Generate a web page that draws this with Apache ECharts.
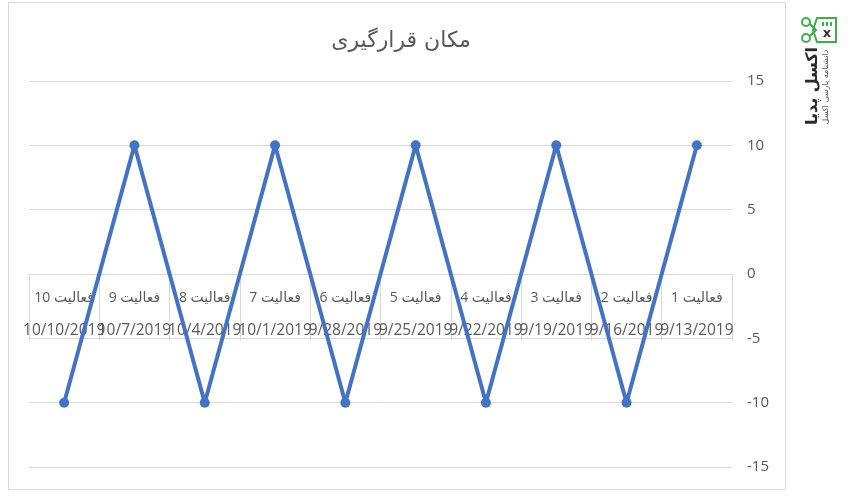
<!DOCTYPE html>
<html><head><meta charset="utf-8">
<script src="https://cdn.jsdelivr.net/npm/echarts@6/dist/echarts.min.js"></script>
<style>html,body{margin:0;padding:0;background:#fff}#c{width:849px;height:500px}</style>
</head><body><div id="c"></div>
<script>
var activities = ['فعالیت 1','فعالیت 2','فعالیت 3','فعالیت 4','فعالیت 5','فعالیت 6','فعالیت 7','فعالیت 8','فعالیت 9','فعالیت 10'];
var dates = ['9/13/2019','9/16/2019','9/19/2019','9/22/2019','9/25/2019','9/28/2019','10/1/2019','10/4/2019','10/7/2019','10/10/2019'];
var values = [10,-10,10,-10,10,-10,10,-10,10,-10];
var titleText = 'مکان قرارگیری';
var yMin = -15, yMax = 15, yStep = 5;

var FONT = '"Open Sans", "DejaVu Sans", sans-serif';
var chart = echarts.init(document.getElementById('c'));
chart.setOption({
  animation: false,
  title: {text: titleText, left: 396, top: 25, textAlign: 'center',
    textStyle: {color: '#595959', fontSize: 22, fontWeight: 'normal', fontFamily: '"DejaVu Sans", sans-serif'}},
  grid: {left: 29, right: 117, top: 81, bottom: 33, containLabel: false, outerBoundsMode: 'none'},
  xAxis: {
    type: 'category', data: activities, inverse: true, boundaryGap: true,
    position: 'bottom', offset: -193,
    axisLine: {onZero: false, lineStyle: {color: '#D9D9D9', width: 1}},
    axisTick: {show: true, length: 67, lineStyle: {color: '#D9D9D9'}},
    axisLabel: {interval: 0, margin: 8, color: '#595959', fontFamily: FONT, hideOverlap: false,
      formatter: function(v, i){ return '{a|' + v + '}\n{b|' + dates[i] + '}'; },
      rich: {a: {fontSize: 14, lineHeight: 32, color: '#595959', fontFamily: FONT},
             b: {fontSize: 15.5, lineHeight: 34, color: '#595959', fontFamily: FONT}}}
  },
  yAxis: {
    type: 'value', position: 'right', min: yMin, max: yMax, interval: yStep,
    axisLine: {show: false}, axisTick: {show: false},
    axisLabel: {margin: 15, color: '#595959', fontSize: 15, fontFamily: FONT, align: 'left'},
    splitLine: {lineStyle: {color: '#D9D9D9', width: 1}}
  },
  series: [{
    type: 'line', data: values, symbol: 'circle', symbolSize: 10, z: 5,
    lineStyle: {color: '#4472C4', width: 4}, itemStyle: {color: '#4472C4'}
  }],
  graphic: [
    {type: 'rect', shape: {x: 8.5, y: 2.5, width: 777, height: 487}, style: {fill: 'none', stroke: '#D9D9D9', lineWidth: 1}, silent: true, z: -1},
    {type: 'group', x: 800, y: 14, children: [
      {type: 'circle', shape: {cx: 6, cy: 8, r: 4}, style: {fill: 'none', stroke: '#3DAE49', lineWidth: 2}},
      {type: 'circle', shape: {cx: 6, cy: 24, r: 4}, style: {fill: 'none', stroke: '#3DAE49', lineWidth: 2}},
      {type: 'polyline', shape: {points: [[10,10],[16,16],[10,22]]}, style: {stroke: '#3DAE49', lineWidth: 2, fill: 'none'}},
      {type: 'polygon', shape: {points: [[17,4],[36,4],[36,28],[17,28],[13,16]]}, style: {fill: 'none', stroke: '#3DAE49', lineWidth: 2}},
      {type: 'line', shape: {x1: 23, y1: 8, x2: 23, y2: 12}, style: {stroke: '#3DAE49', lineWidth: 2}},
      {type: 'line', shape: {x1: 27, y1: 8, x2: 27, y2: 12}, style: {stroke: '#3DAE49', lineWidth: 2}},
      {type: 'line', shape: {x1: 31, y1: 8, x2: 31, y2: 12}, style: {stroke: '#3DAE49', lineWidth: 2}},
      {type: 'text', x: 27, y: 20, style: {text: 'x', fill: '#333', fontSize: 13, fontWeight: 'bold', align: 'center', verticalAlign: 'middle', fontFamily: 'DejaVu Sans'}}
    ]},
    {type: 'text', x: 813, y: 86, rotation: Math.PI/2, style: {text: 'اکسل پدیا', fill: '#2b2b2b', fontSize: 16, fontWeight: 'bold', align: 'center', verticalAlign: 'middle', fontFamily: '"DejaVu Sans", sans-serif'}},
    {type: 'text', x: 826, y: 87, rotation: Math.PI/2, style: {text: 'دانشنامه پارسی اکسل', fill: '#555', fontSize: 8, align: 'center', verticalAlign: 'middle', fontFamily: '"DejaVu Sans", sans-serif'}}
  ]
});
</script></body></html>
